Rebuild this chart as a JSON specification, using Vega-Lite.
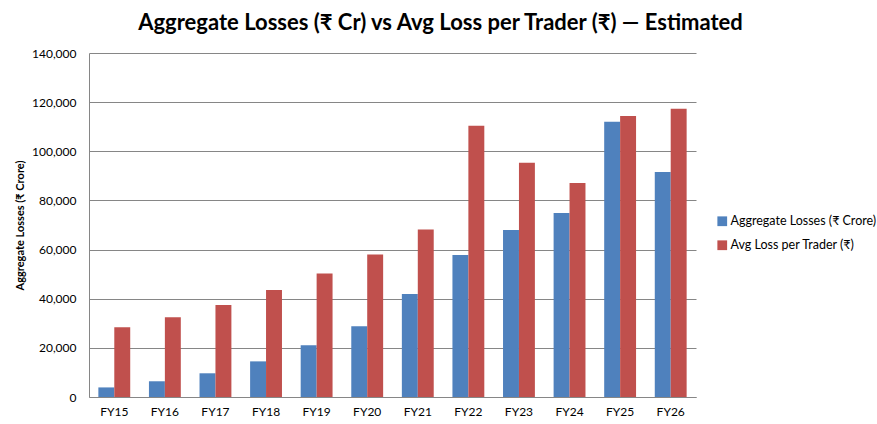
{
  "$schema": "https://vega.github.io/schema/vega-lite/v6.json",
  "autosize": {"type": "none"},
  "padding": {"left": 89, "top": 53, "right": 181, "bottom": 28},
  "width": 607,
  "height": 344,
  "title": {
    "text": "Aggregate Losses (₹ Cr) vs Avg Loss per Trader (₹) — Estimated",
    "font": "Lato, Noto Sans",
    "fontSize": 22,
    "fontWeight": "bold",
    "color": "#000000",
    "anchor": "middle",
    "frame": "group",
    "dx": 48,
    "offset": 12
  },
  "data": {
    "values": [
      {"year": "FY15", "series": "Aggregate Losses (₹ Crore)", "value": 3900},
      {"year": "FY15", "series": "Avg Loss per Trader (₹)", "value": 28400},
      {"year": "FY16", "series": "Aggregate Losses (₹ Crore)", "value": 6400},
      {"year": "FY16", "series": "Avg Loss per Trader (₹)", "value": 32500},
      {"year": "FY17", "series": "Aggregate Losses (₹ Crore)", "value": 9650},
      {"year": "FY17", "series": "Avg Loss per Trader (₹)", "value": 37400},
      {"year": "FY18", "series": "Aggregate Losses (₹ Crore)", "value": 14500},
      {"year": "FY18", "series": "Avg Loss per Trader (₹)", "value": 43500},
      {"year": "FY19", "series": "Aggregate Losses (₹ Crore)", "value": 21100},
      {"year": "FY19", "series": "Avg Loss per Trader (₹)", "value": 50300},
      {"year": "FY20", "series": "Aggregate Losses (₹ Crore)", "value": 28800},
      {"year": "FY20", "series": "Avg Loss per Trader (₹)", "value": 58000},
      {"year": "FY21", "series": "Aggregate Losses (₹ Crore)", "value": 41900},
      {"year": "FY21", "series": "Avg Loss per Trader (₹)", "value": 68200},
      {"year": "FY22", "series": "Aggregate Losses (₹ Crore)", "value": 57800},
      {"year": "FY22", "series": "Avg Loss per Trader (₹)", "value": 110400},
      {"year": "FY23", "series": "Aggregate Losses (₹ Crore)", "value": 68000},
      {"year": "FY23", "series": "Avg Loss per Trader (₹)", "value": 95300},
      {"year": "FY24", "series": "Aggregate Losses (₹ Crore)", "value": 74900},
      {"year": "FY24", "series": "Avg Loss per Trader (₹)", "value": 87100},
      {"year": "FY25", "series": "Aggregate Losses (₹ Crore)", "value": 112000},
      {"year": "FY25", "series": "Avg Loss per Trader (₹)", "value": 114400},
      {"year": "FY26", "series": "Aggregate Losses (₹ Crore)", "value": 91600},
      {"year": "FY26", "series": "Avg Loss per Trader (₹)", "value": 117300}
    ]
  },
  "mark": {"type": "bar"},
  "encoding": {
    "x": {
      "field": "year",
      "type": "nominal",
      "sort": null,
      "scale": {"paddingInner": 0.37, "paddingOuter": 0.185},
      "axis": {
        "title": null,
        "labelAngle": 0,
        "ticks": false,
        "labelPadding": 9,
        "domainColor": "#868686",
        "grid": false
      }
    },
    "xOffset": {
      "field": "series",
      "type": "nominal",
      "sort": ["Aggregate Losses (₹ Crore)", "Avg Loss per Trader (₹)"],
      "scale": {"paddingInner": 0}
    },
    "y": {
      "field": "value",
      "type": "quantitative",
      "scale": {"domain": [0, 140000], "nice": false},
      "axis": {
        "title": "Aggregate Losses (₹ Crore)",
        "titleFontWeight": "bold",
        "titleFontSize": 11,
        "titlePadding": 6,
        "values": [0, 20000, 40000, 60000, 80000, 100000, 120000, 140000],
        "format": ",.0f",
        "ticks": false,
        "labelPadding": 13,
        "labelFontSize": 12,
        "domainColor": "#868686",
        "grid": true,
        "gridColor": "#868686"
      }
    },
    "color": {
      "field": "series",
      "type": "nominal",
      "sort": ["Aggregate Losses (₹ Crore)", "Avg Loss per Trader (₹)"],
      "scale": {"range": ["#4F81BD", "#C0504D"]},
      "legend": {
        "title": null,
        "orient": "none",
        "legendX": 627,
        "legendY": 162,
        "symbolType": "square",
        "symbolSize": 95,
        "symbolStrokeWidth": 0,
        "symbolOpacity": 1,
        "rowPadding": 11,
        "labelOffset": 2,
        "labelFontSize": 12.5,
        "labelLimit": 300
      }
    }
  },
  "config": {
    "font": "Lato, Noto Sans",
    "axis": {
      "labelFont": "Lato, Noto Sans",
      "titleFont": "Lato, Noto Sans",
      "labelFontSize": 12,
      "labelColor": "#000000",
      "titleColor": "#000000"
    },
    "legend": {"labelFont": "Lato, Noto Sans", "labelColor": "#000000"},
    "view": {"stroke": null}
  }
}
